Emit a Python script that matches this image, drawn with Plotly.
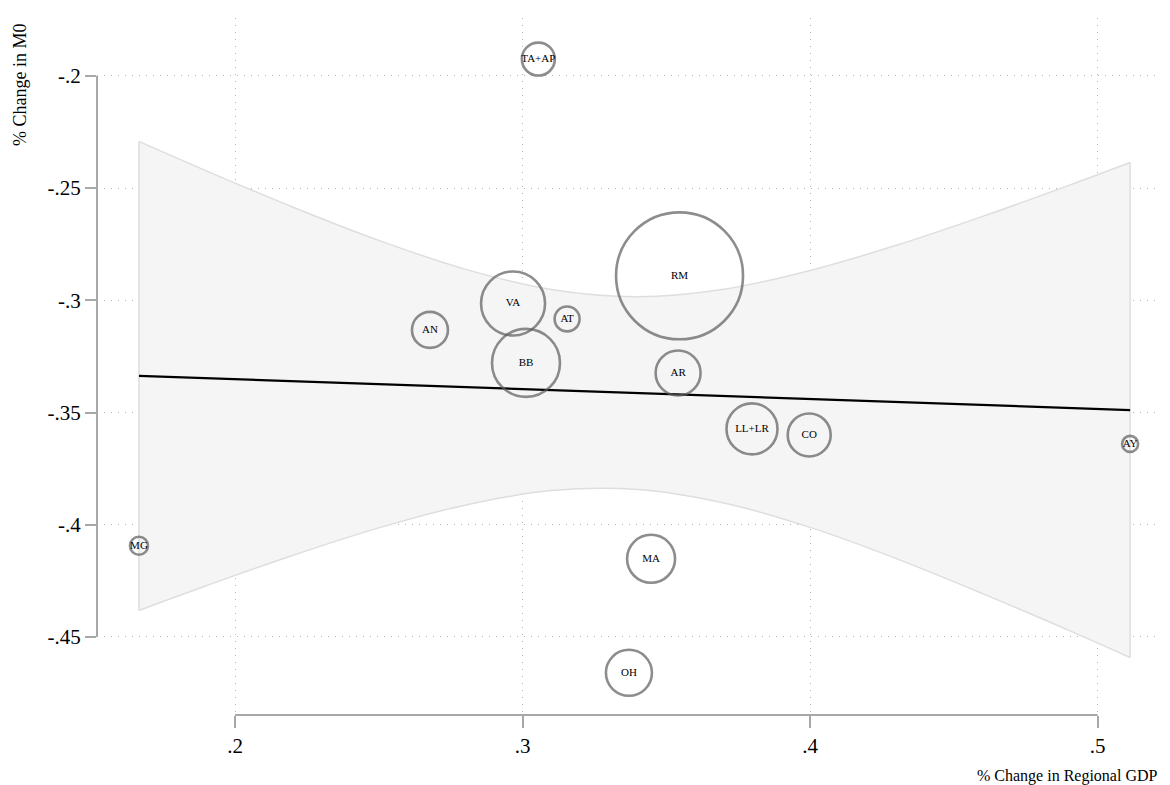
import plotly.graph_objects as go

# Regions: change in regional GDP (x) vs change in M0 (y), bubble = regional weight
regions = ["TA+AP", "RM", "AR", "VA", "AN", "AT", "BB", "LL+LR", "CO", "AY", "MG", "MA", "OH"]
gdp_change = [0.3055, 0.3546, 0.3541, 0.2967, 0.2678, 0.3155, 0.3012, 0.3798, 0.3997, 0.5113, 0.1666, 0.3447, 0.3370]
m0_change = [-0.1925, -0.2891, -0.3324, -0.3014, -0.3132, -0.3083, -0.3279, -0.3573, -0.3600, -0.3640, -0.4094, -0.4152, -0.4660]
weight = [2.72, 40.3, 5.06, 10.24, 3.24, 1.56, 11.56, 6.5, 4.62, 0.64, 0.81, 5.76, 5.29]

# Weighted linear fit and its 95% confidence band
fit_x = [0.1666, 0.5113]
fit_y = [-0.3337, -0.3489]
band_x = [0.1666, 0.19, 0.22, 0.25, 0.28, 0.31, 0.34, 0.37, 0.40, 0.43, 0.46, 0.49, 0.5113]
band_upper = [-0.2292, -0.2423, -0.2584, -0.2733, -0.2861, -0.2952, -0.2984, -0.2951, -0.2867,
              -0.2755, -0.2626, -0.2488, -0.2386]
band_lower = [-0.4382, -0.4272, -0.4137, -0.4014, -0.3913, -0.3848, -0.3843, -0.3903, -0.4012,
              -0.4151, -0.4307, -0.4471, -0.4592]

# Axis ticks
x_ticks = [0.2, 0.3, 0.4, 0.5]
x_ticklabels = [".2", ".3", ".4", ".5"]
y_ticks = [-0.2, -0.25, -0.3, -0.35, -0.4, -0.45]
y_ticklabels = ["-.2", "-.25", "-.3", "-.35", "-.4", "-.45"]

FONT = "Liberation Serif, DejaVu Serif, serif"
band_fill = "#f5f5f5"
band_edge = "#dedede"
axis_gray = "#a8a8a8"
grid_gray = "#b4b4b4"

fig = go.Figure()

# Confidence band: lower edge, then upper edge filled down to it
fig.add_trace(go.Scatter(
    x=band_x, y=band_lower, mode="lines", line=dict(color=band_edge, width=1.5, shape="spline"),
    hoverinfo="skip", showlegend=False))
fig.add_trace(go.Scatter(
    x=band_x, y=band_upper, mode="lines", line=dict(color=band_edge, width=1.5, shape="spline"),
    fill="tonexty", fillcolor=band_fill, hoverinfo="skip", showlegend=False))
# Closing edges at both ends of the band
for i in (0, -1):
    fig.add_trace(go.Scatter(
        x=[band_x[i], band_x[i]], y=[band_lower[i], band_upper[i]], mode="lines",
        line=dict(color=band_edge, width=1.5), hoverinfo="skip", showlegend=False))

# Fitted line
fig.add_trace(go.Scatter(
    x=fit_x, y=fit_y, mode="lines", line=dict(color="black", width=2.2),
    hoverinfo="skip", showlegend=False))

# Hollow bubbles with region labels
fig.add_trace(go.Scatter(
    x=gdp_change, y=m0_change, mode="markers+text", text=regions,
    textposition="middle center", textfont=dict(family=FONT, size=11, color="black"),
    marker=dict(size=weight, sizemode="area", sizeref=0.005,
                color="rgba(0,0,0,0)", line=dict(color="#5e5e5e", width=2.6)),
    showlegend=False))

# Axis lines spanning only the labelled range
fig.add_shape(type="line", xref="paper", yref="y", x0=0, x1=0, y0=y_ticks[0], y1=y_ticks[-1],
              line=dict(color=axis_gray, width=2))
fig.add_shape(type="line", xref="x", yref="paper", x0=x_ticks[0], x1=x_ticks[-1], y0=0, y1=0,
              line=dict(color=axis_gray, width=2))

fig.update_xaxes(
    range=[0.152, 0.5217], tickvals=x_ticks, ticktext=x_ticklabels,
    showline=False, zeroline=False, showgrid=True, gridcolor=grid_gray, griddash="1px,6px", gridwidth=1,
    ticks="outside", ticklen=12, tickwidth=2, tickcolor=axis_gray,
    tickfont=dict(family=FONT, size=21, color="black"))
fig.update_yaxes(
    range=[-0.4848, -0.1742], tickvals=y_ticks, ticktext=y_ticklabels,
    showline=False, zeroline=False, showgrid=True, gridcolor=grid_gray, griddash="1px,6px", gridwidth=1,
    ticks="outside", ticklen=11, tickwidth=2, tickcolor=axis_gray,
    tickfont=dict(family=FONT, size=21, color="black"))

fig.add_annotation(text="% Change in M0", xref="paper", yref="paper", x=-0.072, y=0.995,
                   xanchor="center", yanchor="top", textangle=-90, showarrow=False,
                   font=dict(family=FONT, size=18, color="black"))
fig.add_annotation(text="% Change in Regional GDP", xref="paper", yref="paper", x=1.0, y=-0.072,
                   xanchor="right", yanchor="top", showarrow=False,
                   font=dict(family=FONT, size=16, color="black"))

fig.update_layout(
    width=1170, height=785,
    margin=dict(l=97, r=10, t=18, b=70),
    paper_bgcolor="white", plot_bgcolor="white",
    font=dict(family=FONT, color="black"))

fig.write_html("out.html")
